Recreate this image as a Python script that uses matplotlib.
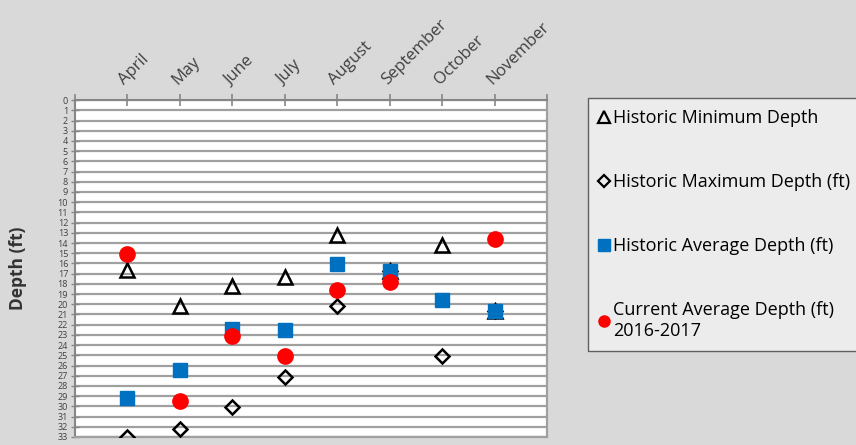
import numpy as np
import matplotlib.pyplot as plt
from matplotlib.lines import Line2D

months = ['April', 'May', 'June', 'July', 'August', 'September', 'October', 'November']
hist_min = [16.6, 20.2, 18.2, 17.3, 13.2, 16.7, 14.2, 20.7]
hist_max = [33.0, 32.2, 30.1, 27.1, 20.2, 16.7, 25.1, 20.7]
hist_avg = [29.2, 26.4, 22.4, 22.5, 16.1, 16.7, 19.6, 20.7]
current_avg = [15.1, 29.5, 23.1, 25.1, 18.6, 17.8, np.nan, 13.6]

plt.rcParams['font.family'] = ['Open Sans', 'DejaVu Sans']

fig = plt.figure(figsize=(8.56, 4.45), dpi=100)
fig.patch.set_facecolor('#d9d9d9')
ax = fig.add_axes([0.0876, 0.018, 0.552, 0.757])
ax.set_facecolor('white')

x = np.arange(1, len(months) + 1)
ax.plot(x, hist_min, linestyle='none', marker='^', ms=10, mfc='none', mec='black', mew=1.8,
        label='Historic Minimum Depth', zorder=3)
ax.plot(x, hist_max, linestyle='none', marker='D', ms=7.5, mfc='none', mec='black', mew=1.8,
        label='Historic Maximum Depth (ft)', zorder=3)
ax.plot(x, hist_avg, linestyle='none', marker='s', ms=10, color='#0070c0',
        label='Historic Average Depth (ft)', zorder=4)
ax.plot(x, current_avg, linestyle='none', marker='o', ms=11, color='#ff0000',
        label='Current Average Depth (ft)\n2016-2017', zorder=5)

ax.set_xlim(0, 9)
ax.set_ylim(33, 0)
ax.set_yticks(np.arange(0, 34))
ax.set_yticklabels([str(v) for v in range(34)], fontsize=6.5, color='#404040')
ax.yaxis.grid(True, color='#a0a0a0', lw=1.6)
ax.set_axisbelow(True)

ax.xaxis.tick_top()
ax.set_xticks(np.arange(0, 10))
ax.set_xticklabels([''] + months + [''], rotation=45, ha='left', va='bottom',
                   rotation_mode='anchor', fontsize=12, color='#404040')
ax.tick_params(axis='x', direction='inout', length=9, color='#868686', width=1.2, pad=4)
ax.tick_params(axis='y', direction='inout', length=6, color='#868686', width=1, pad=2)

for side in ['left', 'top']:
    ax.spines[side].set_color('#868686')
    ax.spines[side].set_linewidth(1.5)
for side in ['right', 'bottom']:
    ax.spines[side].set_color('#a0a0a0')
    ax.spines[side].set_linewidth(1.6)

ax.set_ylabel('Depth (ft)', fontsize=12.5, fontweight='bold', color='#333333')
ax.yaxis.set_label_coords(-0.102, 0.5)

handles = [
    Line2D([], [], linestyle='none', marker='^', ms=8, mfc='none', mec='black', mew=1.6),
    Line2D([], [], linestyle='none', marker='D', ms=6, mfc='none', mec='black', mew=1.6),
    Line2D([], [], linestyle='none', marker='s', ms=8, color='#0070c0'),
    Line2D([], [], linestyle='none', marker='o', ms=8, color='#ff0000'),
]
labels = ['Historic Minimum Depth', 'Historic Maximum Depth (ft)',
          'Historic Average Depth (ft)', 'Current Average Depth (ft)\n2016-2017']
leg = fig.legend(handles, labels, loc='upper left', bbox_to_anchor=(0.676, 0.80),
                 fontsize=13, frameon=True, fancybox=False, labelspacing=2.55,
                 handlelength=0.6, handletextpad=0.2, borderpad=0.6,
                 facecolor='#f2f2f2', edgecolor='#404040')
leg.get_frame().set_linewidth(1.0)

fig.savefig('out.png', dpi=100, facecolor=fig.get_facecolor())
